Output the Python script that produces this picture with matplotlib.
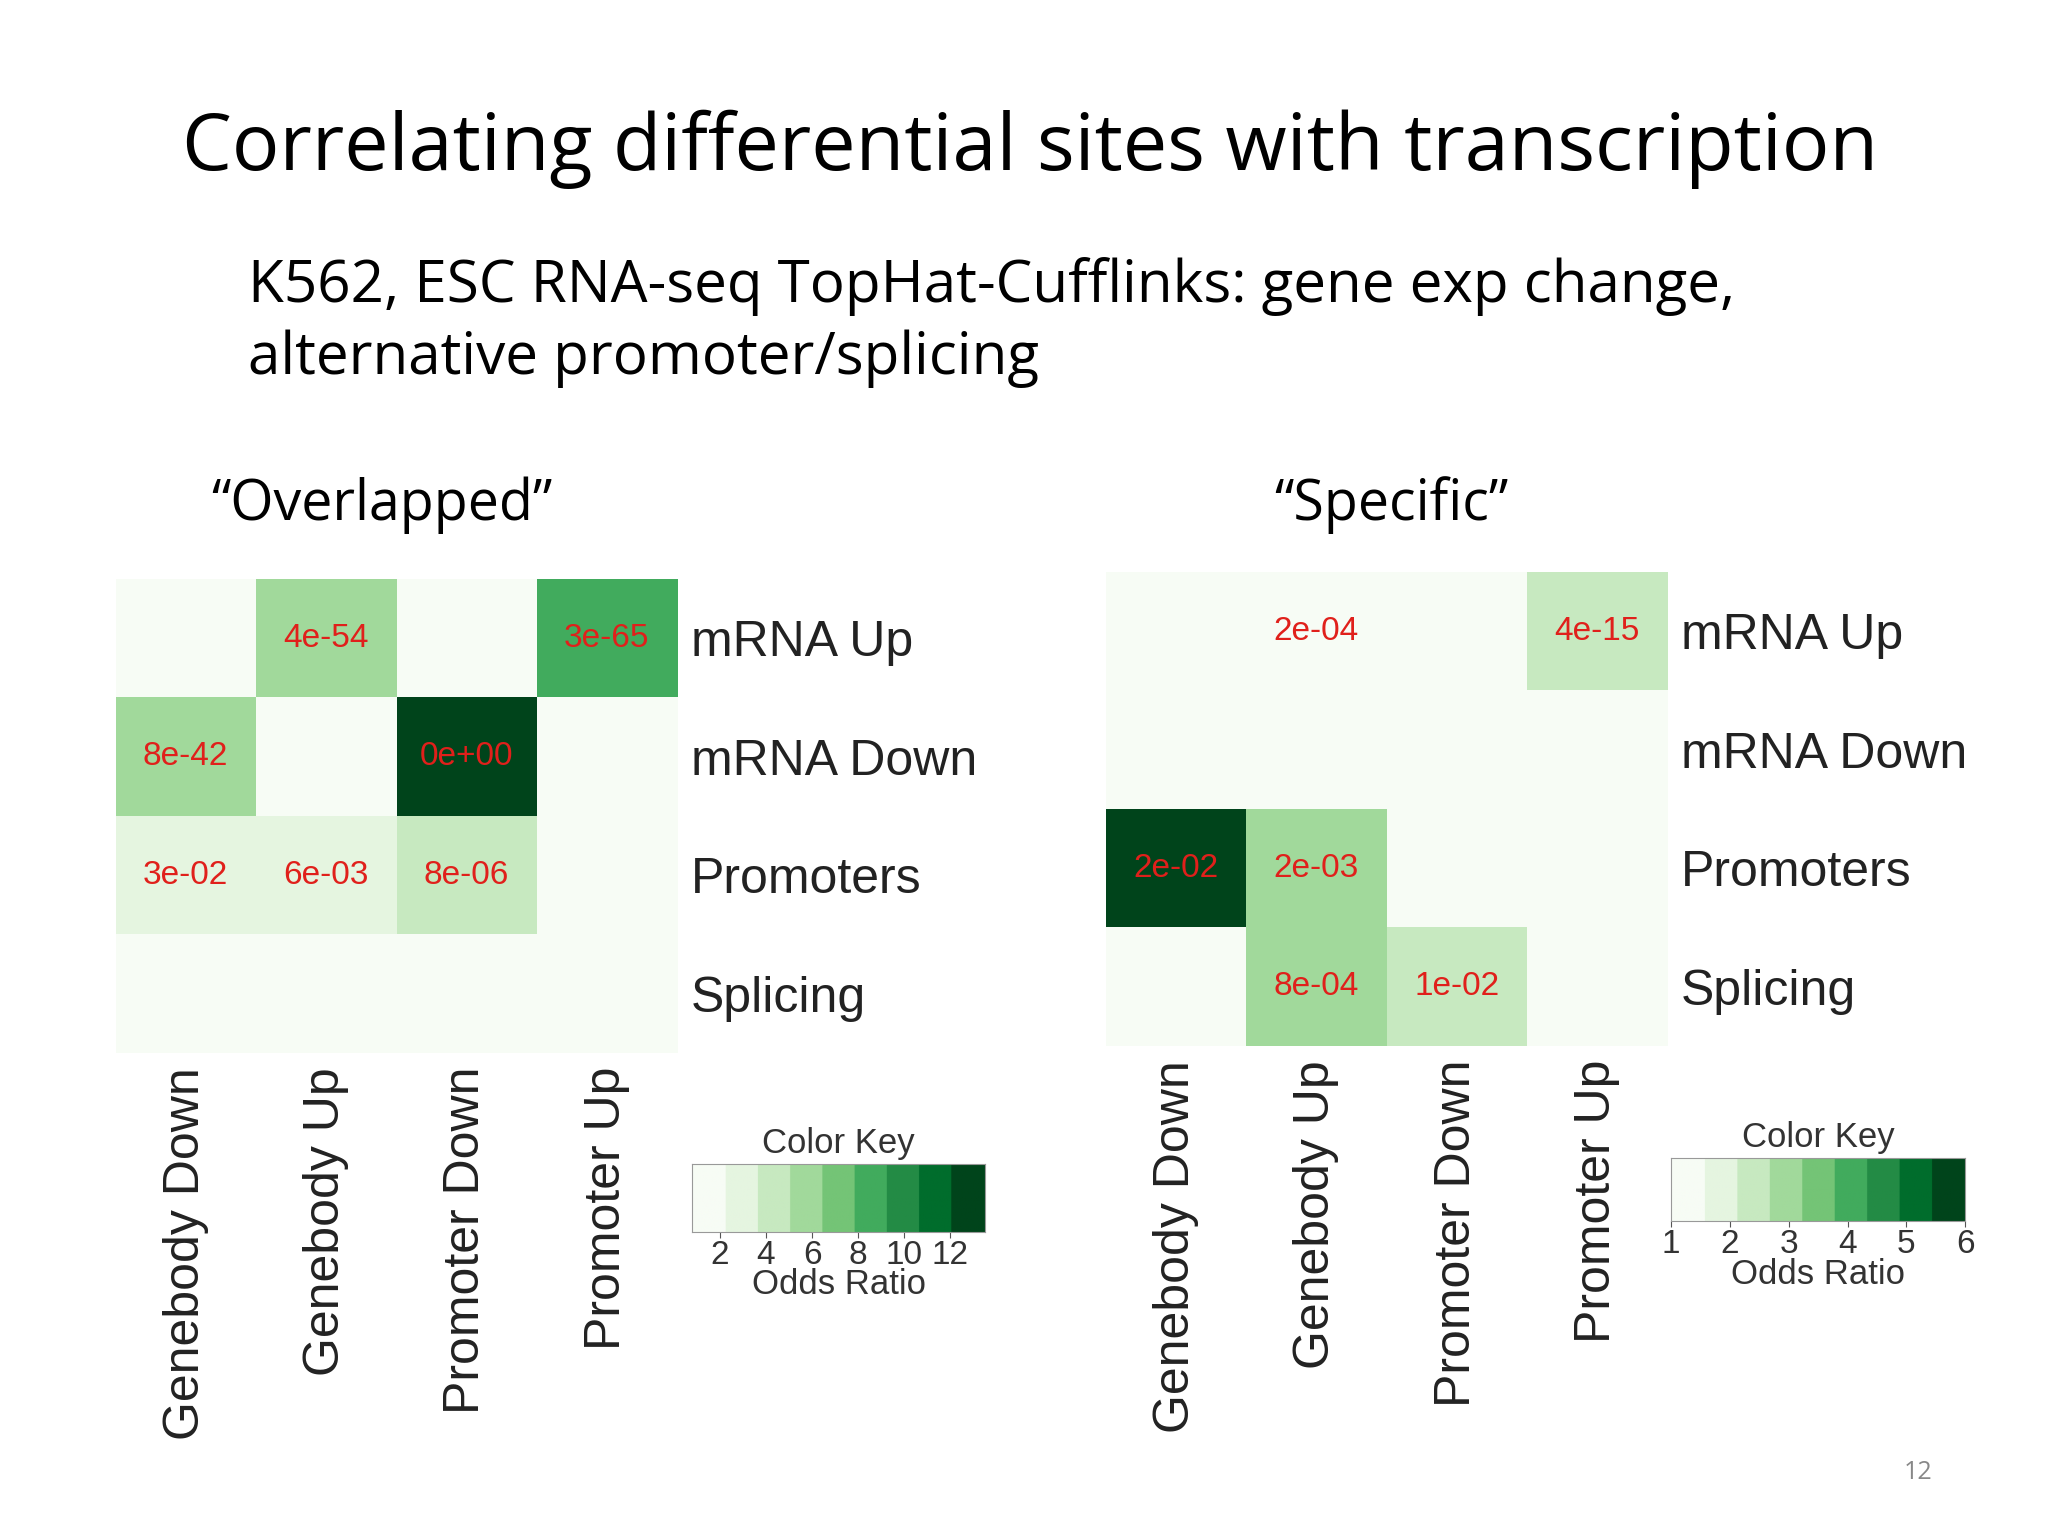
import matplotlib
matplotlib.use("Agg")
import matplotlib.pyplot as plt
import numpy as np
from matplotlib.colors import ListedColormap, BoundaryNorm

plt.rcParams['font.family'] = ['Open Sans', 'DejaVu Sans']
LAB = ['Liberation Sans', 'DejaVu Sans']

rows = ["mRNA Up", "mRNA Down", "Promoters", "Splicing"]
cols = ["Genebody Down", "Genebody Up", "Promoter Down", "Promoter Up"]

left_or = [[1.0, 5.5, 1.0, 8.5],
           [5.5, 1.0, 13.2, 1.0],
           [2.5, 2.5, 4.2, 1.0],
           [1.3, 1.3, 1.3, 1.2]]
left_p = [["", "4e-54", "", "3e-65"],
          ["8e-42", "", "0e+00", ""],
          ["3e-02", "6e-03", "8e-06", ""],
          ["", "", "", ""]]
right_or = [[1.1, 1.1, 1.1, 2.4],
            [1.1, 1.1, 1.1, 1.1],
            [5.9, 2.9, 1.1, 1.1],
            [1.1, 2.9, 2.4, 1.1]]
right_p = [["", "2e-04", "", "4e-15"],
           ["", "", "", ""],
           ["2e-02", "2e-03", "", ""],
           ["", "8e-04", "1e-02", ""]]

greens = ["#f7fcf5", "#e5f5e0", "#c7e9c0", "#a1d99b", "#74c476",
          "#41ab5d", "#238b45", "#006d2c", "#00441b"]
cmap = ListedColormap(greens)

fig = plt.figure(figsize=(20.48, 15.36), dpi=100)
fig.text(0.503, 0.903, "Correlating differential sites with transcription",
         ha="center", va="center", fontsize=57)
fig.text(0.121, 0.790, "K562, ESC RNA-seq TopHat-Cufflinks: gene exp change,\nalternative promoter/splicing",
         ha="left", va="center", fontsize=42, linespacing=1.32)
fig.text(0.103, 0.671, "\u201cOverlapped\u201d", fontsize=40, va="center")
fig.text(0.622, 0.671, "\u201cSpecific\u201d", fontsize=40, va="center")
fig.text(1472/1560, 1-1122/1170, "12", fontsize=18, color="#888888", ha="right", va="center")

def heat(rect, data, pv, vmin, vmax, krect, ticks):
    ax = fig.add_axes(rect)
    bounds = np.linspace(vmin, vmax, 10)
    norm = BoundaryNorm(bounds, cmap.N)
    ax.imshow(np.array(data), cmap=cmap, norm=norm, aspect="auto")
    for i in range(4):
        for j in range(4):
            if pv[i][j]:
                ax.text(j, i, pv[i][j], ha="center", va="center", color="#e0201b",
                        fontsize=24, family=LAB)
    ax.set_xticks(range(4))
    ax.set_xticklabels(cols, rotation=90, fontsize=36, color="#222222", family=LAB)
    ax.yaxis.tick_right()
    ax.set_yticks(range(4))
    ax.set_yticklabels(rows, fontsize=36, color="#222222", family=LAB)
    ax.tick_params(length=0, pad=10)
    for s in ax.spines.values():
        s.set_visible(False)
    kax = fig.add_axes(krect)
    kax.imshow(np.linspace(vmin, vmax, 200)[None, :], cmap=cmap, norm=norm,
               aspect="auto", extent=[vmin, vmax, 0, 1])
    kax.set_yticks([])
    kax.set_xticks(ticks)
    kax.set_xticklabels([str(t) for t in ticks], fontsize=24, color="#333333", family=LAB)
    kax.tick_params(length=4, color="#555555", pad=2)
    kax.set_xlabel("Odds Ratio", fontsize=25, color="#333333", labelpad=-2, family=LAB)
    kax.set_title("Color Key", fontsize=25, color="#333333", pad=8, family=LAB)
    for s in kax.spines.values():
        s.set_color("#999999")

heat([0.0564, 0.3145, 0.274, 0.3085], left_or, left_p, 0.8, 13.5,
     [0.338, 0.198, 0.143, 0.044], [2, 4, 6, 8, 10, 12])
heat([0.540, 0.319, 0.274, 0.3085], right_or, right_p, 1.0, 6.0,
     [0.816, 0.205, 0.1436, 0.041], [1, 2, 3, 4, 5, 6])

fig.savefig("out.png", dpi=100, facecolor="white")
